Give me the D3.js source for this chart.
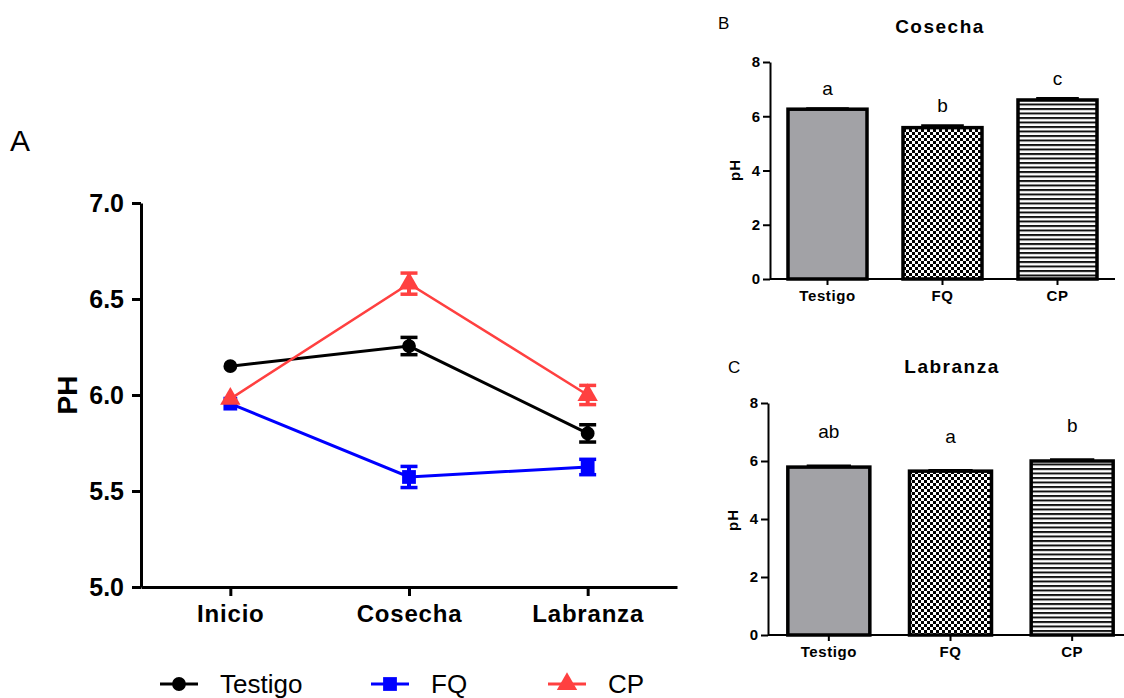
<!DOCTYPE html>
<html><head><meta charset="utf-8">
<script src="https://cdn.jsdelivr.net/npm/d3@7"></script>
<style>
body{margin:0;background:#fff;}
svg{display:block;}
text{font-family:"Liberation Sans", Arial, sans-serif;}
</style>
</head><body>
<svg id="c" width="1124" height="698"></svg>
<script>
// ---------- data ----------
const stages = ["Inicio", "Cosecha", "Labranza"];
const seriesNames = ["Testigo", "FQ", "CP"];
const testigoMean = [6.15, 6.255, 5.80];
const testigoErr  = [0.0, 0.045, 0.045];
const fqMean = [5.955, 5.573, 5.625];
const fqErr  = [0.0, 0.055, 0.04];
const cpMean = [5.98, 6.58, 6.00];
const cpErr  = [0.0, 0.055, 0.05];
const phTicksA = [5.0, 5.5, 6.0, 6.5, 7.0];

const treatments = ["Testigo", "FQ", "CP"];
const cosechaMean = [6.26, 5.58, 6.60];
const cosechaErr  = [0.02, 0.07, 0.05];
const cosechaLetters = ["a", "b", "c"];
const labranzaMean = [5.79, 5.65, 6.00];
const labranzaErr  = [0.04, 0.02, 0.04];
const labranzaLetters = ["ab", "a", "b"];
const phTicksBar = [0, 2, 4, 6, 8];

// ---------- styles ----------
const seriesColors = ["#000000", "#0000ff", "#ff4040"];
const seriesSymbols = [d3.symbolCircle, d3.symbolSquare, d3.symbolTriangle];
const symbolSizes = [150, 190, 180];

const svg = d3.select("#c");
const defs = svg.append("defs");
// checker pattern
const pc = defs.append("pattern").attr("id", "checker").attr("patternUnits", "userSpaceOnUse")
  .attr("width", 6).attr("height", 6);
pc.append("rect").attr("width", 6).attr("height", 6).attr("fill", "#fff");
pc.append("rect").attr("x", 0).attr("y", 0).attr("width", 3).attr("height", 3).attr("fill", "#000");
pc.append("rect").attr("x", 3).attr("y", 3).attr("width", 3).attr("height", 3).attr("fill", "#000");
// horizontal lines pattern
const pl = defs.append("pattern").attr("id", "hlines").attr("patternUnits", "userSpaceOnUse")
  .attr("width", 8).attr("height", 4.5);
pl.append("rect").attr("width", 8).attr("height", 4.5).attr("fill", "#fff");
pl.append("rect").attr("y", 0).attr("width", 8).attr("height", 2).attr("fill", "#111");
const barFills = ["#a2a2a6", "url(#checker)", "url(#hlines)"];

// ---------- Panel A ----------
const xA = d3.scalePoint().domain(stages).range([141, 677]).padding(0.5);
const yA = d3.scaleLinear().domain([5, 7]).range([587, 203]);

svg.append("text").attr("x", 10).attr("y", 151).attr("font-size", 30).text("A");

const gA = svg.append("g");
const yAxisA = gA.append("g").attr("transform", "translate(141,0)")
  .call(d3.axisLeft(yA).tickValues(phTicksA).tickFormat(d3.format(".1f"))
    .tickSize(9).tickSizeOuter(0).tickPadding(8));
yAxisA.selectAll("text").attr("font-size", 25).attr("font-weight", "bold").attr("fill", "#000")
  .attr("font-family", "Liberation Sans, Arial, sans-serif");
const xAxisA = gA.append("g").attr("transform", "translate(0,587)")
  .call(d3.axisBottom(xA).tickSize(9).tickSizeOuter(0).tickPadding(9));
xAxisA.selectAll("text").attr("font-size", 24).attr("font-weight", "bold").attr("fill", "#000")
  .attr("letter-spacing", 0.8).attr("font-family", "Liberation Sans, Arial, sans-serif");
gA.selectAll(".domain, .tick line").attr("stroke", "#000").attr("stroke-width", 3);

svg.append("text").attr("transform", "translate(77,395) rotate(-90)")
  .attr("text-anchor", "middle").attr("font-size", 28).attr("font-weight", "bold").text("PH");

const seriesA = [
  {name: seriesNames[0], mean: testigoMean, err: testigoErr},
  {name: seriesNames[1], mean: fqMean, err: fqErr},
  {name: seriesNames[2], mean: cpMean, err: cpErr}
];
const line = d3.line().x((d, i) => xA(stages[i])).y(d => yA(d));
seriesA.forEach((s, k) => {
  const g = svg.append("g");
  g.append("path").datum(s.mean).attr("d", line).attr("fill", "none")
    .attr("stroke", seriesColors[k]).attr("stroke-width", k === 2 ? 2.5 : 3);
  s.mean.forEach((m, i) => {
    const x = xA(stages[i]);
    const e = s.err[i];
    if (e > 0) {
      g.append("line").attr("x1", x).attr("x2", x).attr("y1", yA(m - e)).attr("y2", yA(m + e))
        .attr("stroke", seriesColors[k]).attr("stroke-width", 4);
      [m - e, m + e].forEach(v => {
        g.append("line").attr("x1", x - 8.5).attr("x2", x + 8.5).attr("y1", yA(v)).attr("y2", yA(v))
          .attr("stroke", seriesColors[k]).attr("stroke-width", 3.5);
      });
    }
    g.append("path").attr("d", d3.symbol().type(seriesSymbols[k]).size(symbolSizes[k])())
      .attr("transform", `translate(${x},${yA(m)})`).attr("fill", seriesColors[k]);
  });
});

// legend
const legendX = [160, 371, 548];
seriesNames.forEach((n, k) => {
  const lx = legendX[k], ly = 684;
  svg.append("line").attr("x1", lx).attr("x2", lx + 38).attr("y1", ly).attr("y2", ly)
    .attr("stroke", seriesColors[k]).attr("stroke-width", 3);
  svg.append("path").attr("d", d3.symbol().type(seriesSymbols[k]).size(symbolSizes[k])())
    .attr("transform", `translate(${lx + 19},${ly})`).attr("fill", seriesColors[k]);
  svg.append("text").attr("x", lx + 60).attr("y", ly + 9).attr("font-size", 26).text(n);
});

// ---------- Bar panels ----------
function barPanel(opts) {
  const {label, labelPos, title, titleX, titleY, yRange, xRange, pi, means, errs, letters, letterOff, phY} = opts;
  const x = d3.scaleBand().domain(treatments).range(xRange).paddingInner(pi).paddingOuter(pi / 2);
  const y = d3.scaleLinear().domain([0, 8]).range(yRange);
  svg.append("text").attr("x", labelPos[0]).attr("y", labelPos[1]).attr("font-size", 17).text(label);
  svg.append("text").attr("x", titleX).attr("y", titleY).attr("text-anchor", "middle")
    .attr("font-size", 19).attr("font-weight", "bold").attr("letter-spacing", 1.5).text(title);
  const g = svg.append("g");
  treatments.forEach((t, i) => {
    const m = means[i], e = errs[i];
    const cx = x(t) + x.bandwidth() / 2;
    g.append("line").attr("x1", cx).attr("x2", cx).attr("y1", y(m)).attr("y2", y(m + e))
      .attr("stroke", "#000").attr("stroke-width", 2);
    g.append("line").attr("x1", cx - x.bandwidth() * 0.27).attr("x2", cx + x.bandwidth() * 0.27)
      .attr("y1", y(m + e)).attr("y2", y(m + e)).attr("stroke", "#000").attr("stroke-width", 3);
    g.append("rect").attr("x", x(t)).attr("y", y(m)).attr("width", x.bandwidth())
      .attr("height", y(0) - y(m)).attr("fill", barFills[i]).attr("stroke", "#000").attr("stroke-width", 3.5);
    g.append("text").attr("x", cx).attr("y", y(m + e) - letterOff).attr("text-anchor", "middle")
      .attr("font-size", 19).text(letters[i]);
  });
  const ya = g.append("g").attr("transform", `translate(${xRange[0]},0)`)
    .call(d3.axisLeft(y).tickValues(phTicksBar).tickSize(7).tickSizeOuter(0).tickPadding(3));
  ya.selectAll("text").attr("font-size", 15).attr("font-weight", "bold").attr("fill", "#000")
    .attr("font-family", "Liberation Sans, Arial, sans-serif");
  const xa = g.append("g").attr("transform", `translate(0,${yRange[0]})`)
    .call(d3.axisBottom(x).tickSize(6).tickSizeOuter(0).tickPadding(5));
  xa.select(".domain").attr("d", `M${xRange[0]},0H${opts.axisEnd}`);
  xa.selectAll("text").attr("font-size", 15).attr("font-weight", "bold").attr("fill", "#000")
    .attr("letter-spacing", 0.6).attr("font-family", "Liberation Sans, Arial, sans-serif");
  g.selectAll(".domain, .tick line").attr("stroke", "#000").attr("stroke-width", 2);
  svg.append("text").attr("transform", `translate(${xRange[0] - 30},${phY}) rotate(-90)`)
    .attr("text-anchor", "middle").attr("font-size", 15).attr("font-weight", "bold")
    .attr("letter-spacing", 1).text("pH");
}

barPanel({label: "B", labelPos: [718, 29], title: "Cosecha", titleX: 940, titleY: 33,
  yRange: [279, 62], xRange: [770, 1115], pi: 0.313, axisEnd: 1115,
  means: cosechaMean, errs: cosechaErr, letters: cosechaLetters, letterOff: 14, phY: 170});
barPanel({label: "C", labelPos: [728, 373], title: "Labranza", titleX: 952, titleY: 373,
  yRange: [635, 403], xRange: [768, 1133], pi: 0.326, axisEnd: 1124,
  means: labranzaMean, errs: labranzaErr, letters: labranzaLetters, letterOff: 28, phY: 520});
</script>
</body></html>
